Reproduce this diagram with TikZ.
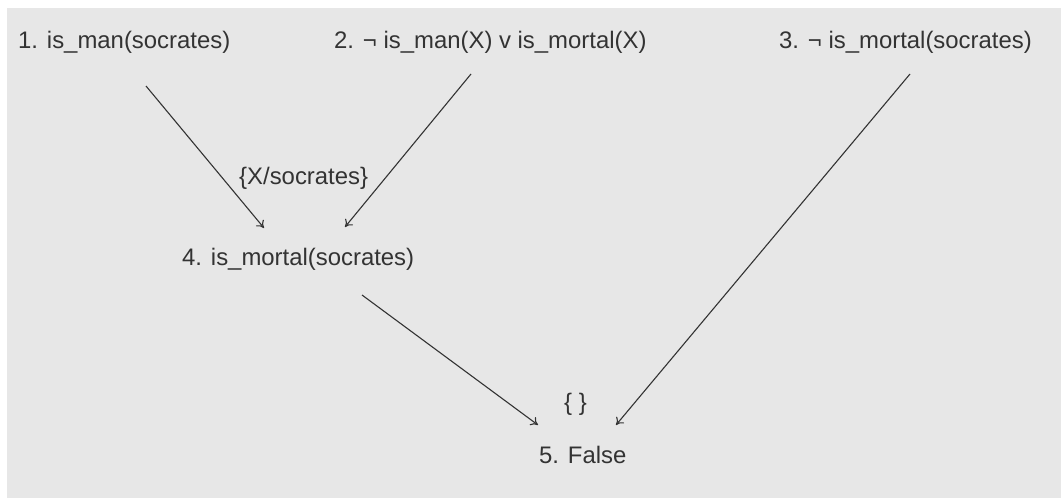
\documentclass[tikz,border=0pt]{standalone}
\usepackage{fontspec}
\setmainfont{Liberation Sans}
\usetikzlibrary{arrows.meta}
\definecolor{panel}{HTML}{E7E7E7}
\definecolor{ink}{HTML}{333333}
\tikzset{
  clause/.style={inner sep=0pt, anchor=base west, text=ink,
    font=\fontsize{23.9}{28}\selectfont},
  link/.style={draw=ink, line width=1.1pt, -{To[length=7pt,width=10pt]}},
}
\begin{document}
\begin{tikzpicture}[x=1pt,y=-1pt]
  \useasboundingbox (0,0) rectangle (1061,498);
  \fill[panel] (7,8) rectangle (1061,498);

  % clauses
  \node[clause] (c1) at (18,48) {1. is\_man(socrates)};
  \node[clause] (c2) at (334,48) {2. ¬ is\_man(X) v is\_mortal(X)};
  \node[clause] (c3) at (779,48) {3. ¬ is\_mortal(socrates)};
  \node[clause] (sub) at (239,184) {\{X/socrates\}};
  \node[clause] (c4) at (182,265) {4. is\_mortal(socrates)};
  \node[clause] (empty) at (564,410) {\{ \}};
  \node[clause] (c5) at (539,463) {5. False};

  % connector end points
  \coordinate (s1) at (146,86);  \coordinate (t1) at (264,228);
  \coordinate (s2) at (471,74);  \coordinate (t2) at (345,227);
  \coordinate (s4) at (362,295); \coordinate (t4) at (538,425);
  \coordinate (s3) at (910,74);  \coordinate (t3) at (616,425);

  \draw[link] (s1) -- (t1);
  \draw[link] (s2) -- (t2);
  \draw[link] (s4) -- (t4);
  \draw[link] (s3) -- (t3);
\end{tikzpicture}
\end{document}
